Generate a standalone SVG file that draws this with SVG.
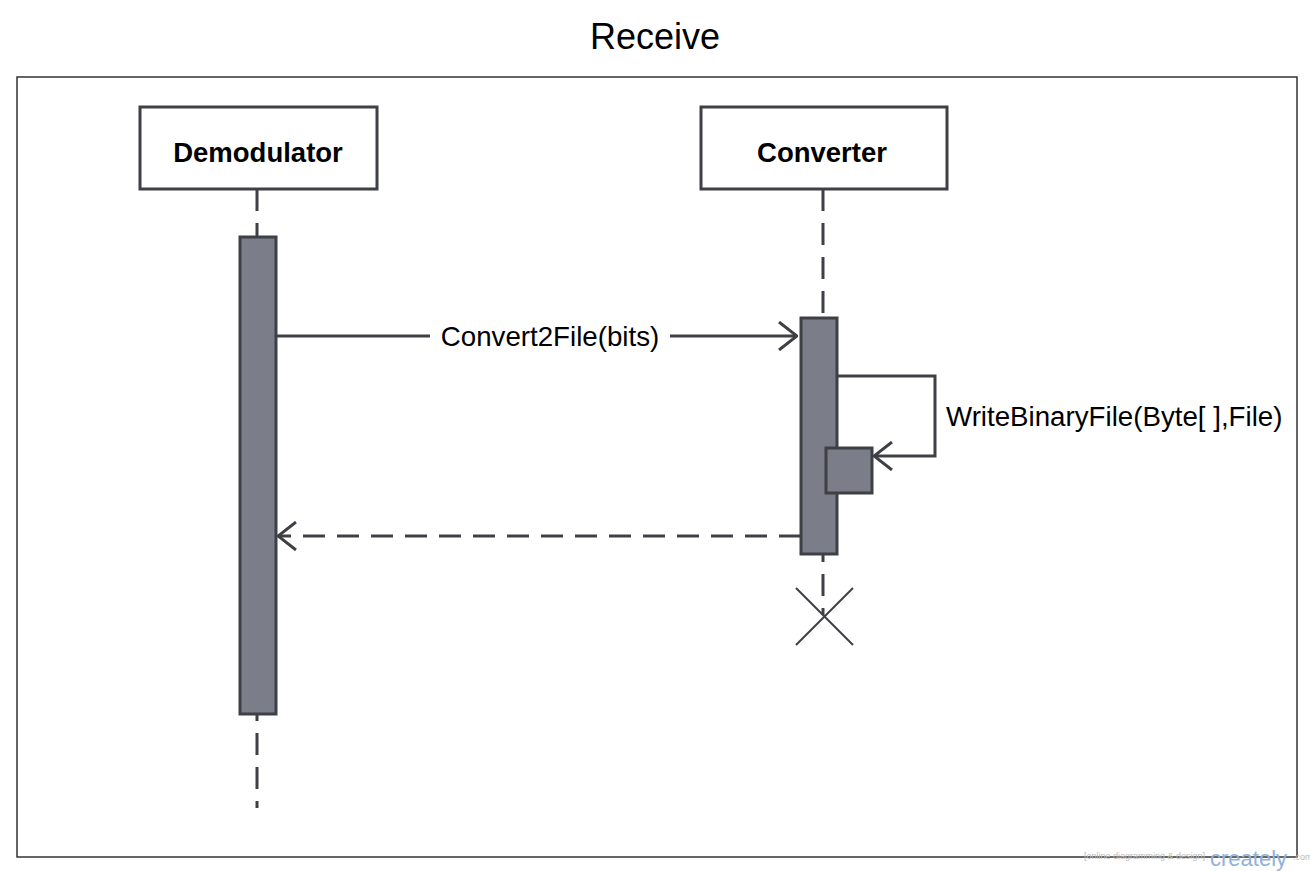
<svg xmlns="http://www.w3.org/2000/svg" width="1310" height="871" viewBox="0 0 1310 871">
<style>
.box{fill:#fff;stroke:#3f4046;stroke-width:3}
.act{fill:#7b7d88;stroke:#3f4046;stroke-width:3}
.life{stroke:#3f4046;stroke-width:3;stroke-dasharray:22 12;fill:none}
.ln{stroke:#3f4046;stroke-width:3;fill:none}
.name{font-family:"Liberation Sans",Arial,sans-serif;font-weight:bold;font-size:27.5px;fill:#000;text-anchor:middle}
.lbl{font-family:"Liberation Sans",Arial,sans-serif;font-size:27.7px;fill:#000}
</style>
<defs>
<marker id="open" viewBox="0 0 20 30" refX="19" refY="15" markerWidth="20" markerHeight="30" markerUnits="userSpaceOnUse" orient="auto">
<path d="M1,1 L19,15 L1,29" fill="none" stroke="#3f4046" stroke-width="3"/>
</marker>
</defs>
<rect width="1310" height="871" fill="#fff"/>
<text x="655" y="49" font-family="Liberation Sans,Arial,sans-serif" font-size="36" text-anchor="middle" fill="#000">Receive</text>
<rect x="17" y="77" width="1280" height="780" fill="none" stroke="#333" stroke-width="1.5"/>
<g id="demodulator">
<rect class="box" x="140" y="107" width="237" height="82"/>
<text class="name" x="258" y="162">Demodulator</text>
<line class="life" x1="257" y1="189" x2="257" y2="808"/>
<rect class="act" x="240" y="237" width="36" height="477"/>
</g>
<g id="converter">
<rect class="box" x="701" y="107" width="246" height="82"/>
<text class="name" x="822" y="162">Converter</text>
<line class="life" x1="823" y1="189" x2="823" y2="318"/>
<line class="life" x1="823" y1="554" x2="823" y2="615" stroke-dashoffset="-20"/>
<rect class="act" x="801" y="318" width="36" height="236"/>
<rect class="act" x="826" y="448" width="46" height="45"/>
<path d="M796,588 L853,645 M853,588 L796,645" stroke="#3f4046" stroke-width="2" fill="none"/>
</g>
<g id="connectors">
<line class="ln" x1="276" y1="336" x2="797" y2="336" marker-end="url(#open)"/>
<rect x="430" y="316" width="240" height="40" fill="#fff"/>
<text class="lbl" x="550" y="346" text-anchor="middle">Convert2File(bits)</text>
<polyline class="ln" points="837,376 935,376 935,456 874,456" marker-end="url(#open)"/>
<text class="lbl" x="946" y="426">WriteBinaryFile(Byte[ ],File)</text>
<line class="life" x1="801" y1="536" x2="278" y2="536" marker-end="url(#open)"/>
</g>
<text x="1205" y="859" font-family="Liberation Sans,Arial,sans-serif" font-size="9" fill="#bbb" text-anchor="end">[online diagramming &amp; design]</text>
<text x="1210" y="866" font-family="Liberation Sans,Arial,sans-serif" font-size="22" fill="#8fb3d9">creately</text>
<text x="1293" y="860" font-family="Liberation Sans,Arial,sans-serif" font-size="9" fill="#bbb">.com</text>
</svg>
